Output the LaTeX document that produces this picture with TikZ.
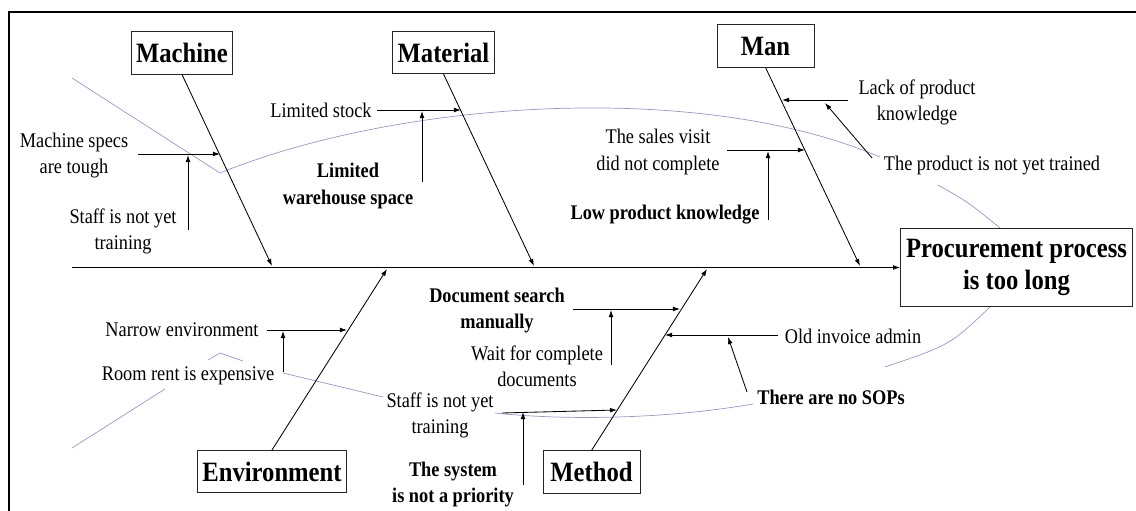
\documentclass[tikz,border=0pt]{standalone}
\usepackage{fontspec}
\setmainfont{Liberation Serif}[FakeStretch=0.88]
\usetikzlibrary{arrows.meta}
\definecolor{fishline}{RGB}{160,146,206}

\begin{document}
\begin{tikzpicture}[x=0.025cm,y=-0.025cm,
	catbox/.style={draw=black!85, line width=0.6pt, minimum width=69pt, minimum height=30pt, inner xsep=3.5pt, font=\fontsize{19.9}{22}\selectfont\bfseries},
	cause/.style={align=center, inner sep=1pt, font=\fontsize{14.8}{18.5}\selectfont},
	bcause/.style={align=center, inner sep=1pt, font=\fontsize{14.8}{18.5}\selectfont\bfseries},
	bone/.style={-{Latex[length=5pt,width=3.4pt]}, line width=0.6pt},
	outline/.style={fishline, line width=0.5pt}]
	\useasboundingbox (0,0) rectangle (1136,511);
	\draw[line width=1.4pt] (1136,12) -- (9,12) -- (9,511);
	
	% fish outline
	\draw[outline] (72,78) -- (220,173) .. controls (400,100) and (700,80) .. (880,157);
	\draw[outline] (938,185) .. controls (968,202) .. (1000,228);
	\draw[outline] (990,307) .. controls (950,345) .. (885,367);
	\draw[outline] (753,404) .. controls (660,420) and (560,420) .. (495,413);
	\draw[outline] (383,397) -- (283,373);
	\draw[outline] (243,361) -- (220,353) -- (208,360);
	\draw[outline] (165,389) -- (72,448);
	
	% head and categories
	\node[catbox, minimum width=165pt, minimum height=56pt, align=center, font=\fontsize{19.9}{23}\selectfont\bfseries] (PR) at (1016.5,267.5) {Procurement process\\is too long};
	\node[catbox] (MA) at (182,53) {Machine};
	\node[catbox] (MT) at (443.5,52.5) {Material};
	\node[catbox] (MN) at (765.5,46) {Man};
	\node[catbox] (EN) at (272,471.5) {Environment};
	\node[catbox] (ME) at (591.5,472) {Method};
	
	\coordinate (SP) at (72,267.5);
	\coordinate (BA) at (272,266);
	\coordinate (BB) at (534,266);
	\coordinate (BC) at (860,266);
	\coordinate (BD) at (387,269);
	\coordinate (BE) at (707,269);
	
	\draw[bone] (SP)--(PR.west);
	\draw[bone] (MA.south)--(BA);
	\draw[bone] (MT.south)--(BB);
	\draw[bone] (MN.south)--(BC);
	\draw[bone] (EN.north)--(BD);
	\draw[bone] (ME.north)--(BE);
	
	% causes
	\node[cause] (CA) at (74,156) {Machine specs\\are tough};
	\node[cause] (CB) at (123,231) {Staff is not yet\\training};
	\node[cause] (CC) at (321,110) {Limited stock};
	\node[bcause] (CD) at (348,186) {Limited\\warehouse space};
	\node[cause] (CE) at (917,102) {Lack of product\\knowledge};
	\node[cause] (CF) at (992,166) {The product is not yet trained};
	\node[cause] (CG) at (658,152) {The sales visit\\did not complete};
	\node[bcause] (CH) at (665,215) {Low product knowledge};
	\node[cause] (CI) at (182,330) {Narrow environment};
	\node[cause] (CJ) at (188,376) {Room rent is expensive};
	\node[bcause] (CK) at (497,311) {Document search\\manually};
	\node[cause] (CL) at (537,366) {Wait for complete\\documents};
	\node[cause] (CM) at (853,336) {Old invoice admin};
	\node[bcause] (CN) at (831,397) {There are no SOPs};
	\node[cause] (CO) at (440,415) {Staff is not yet\\training};
	\node[bcause] (CP) at (453,485) {The system\\is not a priority};
	
	% cause arrows
	\coordinate (AA) at (138,154);  \coordinate (TA) at (220,154);
	\coordinate (AB) at (188,230);  \coordinate (TB) at (188,155);
	\coordinate (AC) at (377,110);  \coordinate (TC) at (461,110);
	\coordinate (AD) at (422,182);  \coordinate (TD) at (422,111);
	\coordinate (AE) at (848,100);  \coordinate (TE) at (782,100);
	\coordinate (AF) at (872,158);  \coordinate (TF) at (825,103);
	\coordinate (AG) at (727,150);  \coordinate (TG) at (805,150);
	\coordinate (AH) at (768,220);  \coordinate (TH) at (768,151);
	\coordinate (AI) at (267,330);  \coordinate (TI) at (347,330);
	\coordinate (AJ) at (283,372);  \coordinate (TJ) at (283,331);
	\coordinate (AK) at (573,309);  \coordinate (TK) at (680,309);
	\coordinate (AL) at (611,365);  \coordinate (TL) at (611,310);
	\coordinate (AM) at (778,335);  \coordinate (TM) at (665,335);
	\coordinate (AN) at (747,392);  \coordinate (TN) at (728,337);
	\coordinate (AO) at (502,413);  \coordinate (TO) at (617,410);
	\coordinate (AP) at (523,485);  \coordinate (TP) at (523,412);
	
	\draw[bone] (AA)--(TA);
	\draw[bone] (AB)--(TB);
	\draw[bone] (AC)--(TC);
	\draw[bone] (AD)--(TD);
	\draw[bone] (AE)--(TE);
	\draw[bone] (AF)--(TF);
	\draw[bone] (AG)--(TG);
	\draw[bone] (AH)--(TH);
	\draw[bone] (AI)--(TI);
	\draw[bone] (AJ)--(TJ);
	\draw[bone] (AK)--(TK);
	\draw[bone] (AL)--(TL);
	\draw[bone] (AM)--(TM);
	\draw[bone] (AN)--(TN);
	\draw[bone] (AO)--(TO);
	\draw[bone] (AP)--(TP);
\end{tikzpicture}
\end{document}
